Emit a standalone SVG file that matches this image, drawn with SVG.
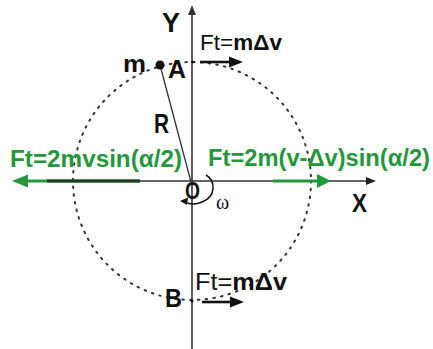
<svg xmlns="http://www.w3.org/2000/svg" width="433" height="349" viewBox="0 0 433 349">
<style>
.t{font-family:"Liberation Sans",Arial,sans-serif;fill:#111}
.b{font-weight:bold}
.g{font-family:"Liberation Sans",Arial,sans-serif;font-weight:bold;fill:#25963c}
.axis{stroke:#333;stroke-width:1.6;fill:none}
.circ{stroke:#333;stroke-width:2;fill:none;stroke-dasharray:1.6 6.2;stroke-linecap:round}
</style>
<g id="circle"><circle class="circ" cx="192" cy="181" r="119"/></g>
<g id="connectors">
<line class="axis" x1="192" y1="14" x2="192" y2="349"/>
<path d="M192,5 L196,15 L188,15 z" fill="#333"/>
<line class="axis" x1="14" y1="181" x2="367" y2="181"/>
<path d="M376,181 L366,177 L366,185 z" fill="#222"/>
<line x1="160" y1="65" x2="191" y2="182" stroke="#333" stroke-width="1.3"/>
<line x1="200" y1="62" x2="231" y2="62" stroke="#111" stroke-width="2.6"/>
<path d="M243,62 L229,56.5 L229,67.5 z" fill="#111"/>
<line x1="202" y1="302" x2="232" y2="302" stroke="#111" stroke-width="2.6"/>
<path d="M244,302 L230,296.5 L230,307.5 z" fill="#111"/>
<line x1="26" y1="181" x2="140" y2="181" stroke="#25963c" stroke-width="3"/>
<line x1="47" y1="181" x2="140" y2="181" stroke="#1e3a24" stroke-width="3"/>
<path d="M12,181 L28,174.5 L28,187.5 z" fill="#25963c"/>
<line x1="273" y1="181" x2="320" y2="181" stroke="#25963c" stroke-width="3"/>
<path d="M331,181 L317,174 L317,188 z" fill="#25963c"/>
<path d="M206,175 C216,181 216,197 202,202 C195,205 189,204 185,202" stroke="#111" stroke-width="1.5" fill="none"/>
<path d="M180,201 L188,197.5 L187,205 z" fill="#111"/>
</g>
<g id="point-m">
<circle cx="160" cy="65" r="4.5" fill="#111"/>
<text class="t b" x="123" y="72" font-size="24" textLength="23" lengthAdjust="spacingAndGlyphs">m</text>
</g>
<g id="point-A">
<circle cx="192.5" cy="62" r="1.5" fill="#111"/>
<text class="t b" x="168" y="78" font-size="25" textLength="18" lengthAdjust="spacingAndGlyphs">A</text>
</g>
<g id="point-B">
<circle cx="192" cy="301" r="1.5" fill="#111"/>
<text class="t b" x="165" y="307" font-size="25" textLength="17" lengthAdjust="spacingAndGlyphs">B</text>
</g>
<g id="labels">
<text class="t b" x="162" y="32" font-size="27" textLength="18" lengthAdjust="spacingAndGlyphs">Y</text>
<text class="t b" x="352" y="212" font-size="26" textLength="15" lengthAdjust="spacingAndGlyphs">X</text>
<text class="t b" x="154" y="133" font-size="27" textLength="15" lengthAdjust="spacingAndGlyphs">R</text>
<text class="t b" x="185" y="199" font-size="24" textLength="15" lengthAdjust="spacingAndGlyphs">O</text>
<text x="216" y="209" font-size="20" font-family="Liberation Serif,'Times New Roman',serif" fill="#111">ω</text>
</g>
<g id="force-top">
<text class="t" x="200" y="50" font-size="22" textLength="82" lengthAdjust="spacingAndGlyphs">Ft=<tspan class="b">mΔv</tspan></text>
</g>
<g id="force-bottom">
<text class="t" x="195" y="290" font-size="23" textLength="92" lengthAdjust="spacingAndGlyphs">Ft=<tspan class="b">mΔv</tspan></text>
</g>
<g id="force-left">
<text class="g" x="10" y="167" font-size="23" textLength="172" lengthAdjust="spacingAndGlyphs">Ft=2mvsin(α/2)</text>
</g>
<g id="force-right">
<text class="g" x="208" y="166" font-size="23" textLength="222" lengthAdjust="spacingAndGlyphs">Ft=2m(v-Δv)sin(α/2)</text>
</g>
</svg>
